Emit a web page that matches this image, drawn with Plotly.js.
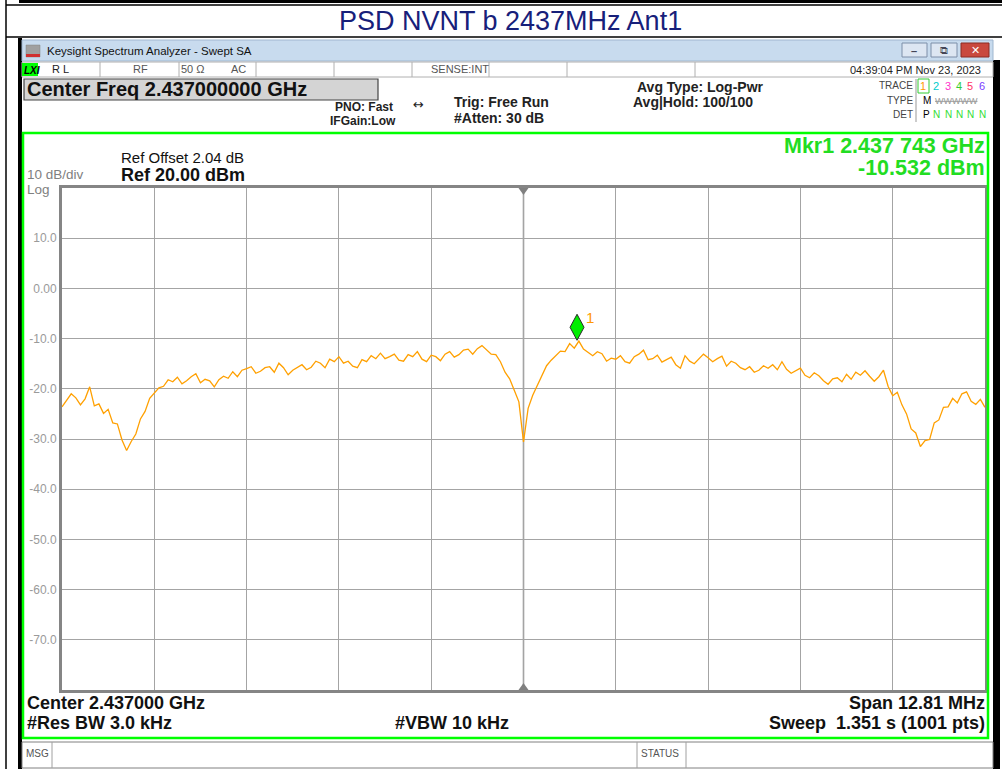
<!DOCTYPE html>
<html>
<head>
<meta charset="utf-8">
<script src="https://cdn.plot.ly/plotly-3.0.1.min.js"></script>
<style>
  body { margin: 0; background: #fff; }
  #psd { width: 1002px; height: 769px; }
</style>
</head>
<body>
<div id="psd"></div>
<script>
// sweep settings
var centerMHz = 2437.0;
var spanMHz = 12.81;
var refLevel = 20;
var dbPerDiv = 10;

// trace 1 levels (dBm), 201 points read across the span, left to right
var sweepLevels = [
  -23.6, -22.4, -21.0, -21.8, -23.2, -22.0, -19.6, -23.4, -23.0, -24.9,
  -24.1, -26.8, -27.0, -30.2, -32.3, -30.5, -29.0, -26.0, -24.5, -21.9,
  -20.9, -19.8, -19.5, -18.2, -18.6, -17.7, -19.0, -18.4, -17.6, -17.0,
  -18.8, -18.1, -18.4, -19.6, -18.2, -17.5, -17.9, -16.6, -17.6, -16.3,
  -16.0, -15.6, -16.9, -16.5, -15.8, -15.6, -16.7, -14.9, -15.8, -17.2,
  -16.3, -15.8, -15.2, -16.2, -15.7, -14.5, -14.9, -15.8, -14.1, -14.6,
  -13.6, -14.9, -14.5, -15.5, -15.8, -14.2, -14.6, -13.4, -14.0, -12.9,
  -14.0, -13.6, -13.1, -14.3, -14.5, -13.2, -13.6, -12.6, -14.1, -14.6,
  -13.3, -13.6, -14.4, -13.1, -12.6, -13.7, -13.2, -12.3, -12.1, -13.1,
  -12.0, -11.4, -12.2, -13.1, -13.2, -14.6, -16.7, -18.0, -20.3, -22.6,
  -30.6, -23.9, -21.3, -19.3, -17.4, -15.4, -14.3, -13.5, -12.5, -12.6,
  -11.0, -11.9, -10.5, -12.1, -12.8, -13.4, -12.6, -13.0, -14.5, -13.9,
  -14.1, -13.4, -14.6, -14.9, -13.6, -13.1, -12.3, -14.2, -14.0, -13.3,
  -14.7, -14.2, -13.7, -15.2, -15.9, -13.4, -14.5, -15.0, -14.0, -13.1,
  -13.8, -14.6, -14.0, -13.5, -15.5, -14.5, -14.9, -15.8, -16.2, -15.6,
  -16.7, -16.3, -15.4, -15.9, -15.2, -16.2, -14.6, -16.1, -16.9, -16.4,
  -15.9, -17.3, -17.8, -16.8, -17.4, -18.4, -19.1, -18.0, -17.8, -18.6,
  -17.1, -18.1, -16.7, -17.3, -16.4, -17.5, -18.5, -17.6, -16.3, -19.5,
  -21.4, -20.7, -23.2, -25.0, -28.0, -28.8, -31.5, -30.3, -30.1, -26.8,
  -26.2, -23.7, -23.6, -21.9, -22.8, -21.0, -20.6, -22.5, -23.1, -22.1,
  -23.7
];

var yTickVals = [10, 0, -10, -20, -30, -40, -50, -60, -70];
var yTickText = ['10.0', '0.00', '-10.0', '-20.0', '-30.0', '-40.0', '-50.0', '-60.0', '-70.0'];

var markerFreqMHz = 2437.743;
var markerLevel = -10.532;

var traceColors = ['#ff9900', '#00cccc', '#ff33cc', '#33cc33', '#ff3366', '#7a3cff'];

// ---------------------------------------------------------------
var startMHz = centerMHz - spanMHz / 2;
var stopMHz = centerMHz + spanMHz / 2;
var freqs = sweepLevels.map(function (v, i) {
  return startMHz + i * spanMHz / (sweepLevels.length - 1);
});

// screen pixel -> paper coords (plot area is 62..985 x 188..690)
var PL = 62, PR = 985, PT = 188, PB = 690;
function px(x) { return (x - PL) / (PR - PL); }
function py(y) { return (PB - y) / (PB - PT); }

var FONT = 'Liberation Sans, Arial, sans-serif';

function note(x, y, text, size, color, anchor, family) {
  return {
    xref: 'paper', yref: 'paper', x: px(x), y: py(y),
    text: text, showarrow: false,
    xanchor: anchor || 'left', yanchor: 'middle',
    borderpad: 0,
    font: { family: family || FONT, size: size, color: color || '#000' }
  };
}

function rect(x0, y0, x1, y1, fill, line, lw) {
  return {
    type: 'rect', xref: 'paper', yref: 'paper',
    x0: px(x0), x1: px(x1), y0: py(y0), y1: py(y1),
    fillcolor: fill || 'rgba(0,0,0,0)',
    line: { color: line || 'rgba(0,0,0,0)', width: lw === undefined ? 1 : lw }
  };
}

function seg(x0, y0, x1, y1, color, lw) {
  return {
    type: 'line', xref: 'paper', yref: 'paper',
    x0: px(x0), x1: px(x1), y0: py(y0), y1: py(y1),
    line: { color: color, width: lw }
  };
}

var shapes = [
  // report table lines
  rect(19, 0, 1002, 3, '#000', '#000', 0),
  seg(6, 0, 6, 769, '#000', 1.5),
  seg(6, 5, 1002, 5, '#000', 1.5),
  seg(6, 37, 1002, 37, '#000', 1.5),
  // window frame
  rect(18, 38, 22, 769, '#000', '#000', 0),
  rect(993, 60, 1000, 769, '#000', '#000', 0),
  rect(22, 40, 993, 61, '#c8dbee', '#9fb6cf', 1),
  rect(26, 45, 40, 57, '#a0a0a0', '#808080', 0.5),
  rect(26, 54, 40, 57, '#d03030', '#d03030', 0),
  rect(902, 43, 927, 57, '#dde6f2', '#7d8ea8', 1),
  rect(931, 43, 957, 57, '#dde6f2', '#7d8ea8', 1),
  rect(961, 43, 989, 57, '#c9483e', '#8c2a22', 1),
  // status row
  rect(22, 62, 993, 77, '#fff', '#b0b0b0', 1),
  rect(22, 63, 38, 76, '#00ff00', '#00ff00', 0),
  seg(100, 62, 100, 77, '#b0b0b0', 1),
  seg(179, 62, 179, 77, '#b0b0b0', 1),
  seg(256, 62, 256, 77, '#b0b0b0', 1),
  seg(334, 62, 334, 77, '#b0b0b0', 1),
  seg(412, 62, 412, 77, '#b0b0b0', 1),
  seg(489, 62, 489, 77, '#b0b0b0', 1),
  seg(567, 62, 567, 77, '#b0b0b0', 1),
  seg(695, 62, 695, 77, '#b0b0b0', 1),
  // center freq box
  rect(24, 79, 378, 100, '#d4d4d4', '#444', 1.2),
  // trace table
  seg(916, 79, 916, 122, '#999', 1),
  rect(918, 79, 929, 93, 'rgba(0,0,0,0)', '#33cc33', 1),
  // graticule border (green)
  rect(23, 133, 988, 738, 'rgba(0,0,0,0)', '#00ff00', 2.5),
  // message row
  rect(22, 742, 993, 768, '#fff', '#808080', 1),
  seg(52, 742, 52, 768, '#a0a0a0', 1),
  seg(637, 742, 637, 768, '#a0a0a0', 1),
  seg(686, 742, 686, 768, '#a0a0a0', 1),
  // centre graticule line and its flags
  {
    type: 'line', xref: 'x', yref: 'paper', x0: centerMHz, x1: centerMHz, y0: 0, y1: 1,
    line: { color: '#8a8a8a', width: 1.5 }, layer: 'between'
  },
  {
    type: 'path', xref: 'x', yref: 'y', xsizemode: 'pixel', ysizemode: 'pixel',
    xanchor: centerMHz, yanchor: refLevel, path: 'M-5,0 L5,0 L0,-7 Z',
    fillcolor: '#808080', line: { width: 0 }
  },
  {
    type: 'path', xref: 'x', yref: 'y', xsizemode: 'pixel', ysizemode: 'pixel',
    xanchor: centerMHz, yanchor: refLevel - 10 * dbPerDiv, path: 'M-5,0 L5,0 L0,7 Z',
    fillcolor: '#808080', line: { width: 0 }
  },
  // marker 1 diamond
  {
    type: 'path', xref: 'x', yref: 'y', xsizemode: 'pixel', ysizemode: 'pixel',
    xanchor: markerFreqMHz, yanchor: markerLevel, path: 'M0,1 L7,14 L0,27 L-7,14 Z',
    fillcolor: '#00ee00', line: { color: '#2a2a2a', width: 1 }
  }
];

var annotations = [
  note(510, 21, 'PSD NVNT b 2437MHz Ant1', 27, '#17207a', 'center'),
  note(46, 51, 'Keysight Spectrum Analyzer - Swept SA', 11.5, '#111', 'left'),
  note(914, 51, '<b>–</b>', 11, '#445', 'center'),
  note(944, 50, '⧉', 11, '#445', 'center', 'DejaVu Sans'),
  note(975, 50, '<b>✕</b>', 11, '#fff', 'center', 'DejaVu Sans'),
  note(23, 70, '<b><i>LXI</i></b>', 10, '#000', 'left'),
  note(51, 69, 'R L', 11, '#222', 'left'),
  note(140, 69, 'RF', 11, '#555', 'center'),
  note(193, 69, '50 Ω', 11, '#555', 'center'),
  note(238, 69, 'AC', 11, '#555', 'center'),
  note(460, 69, 'SENSE:INT', 11, '#555', 'center'),
  note(982, 70, '04:39:04 PM Nov 23, 2023', 11, '#222', 'right'),
  note(26, 89, '<b>Center Freq 2.437000000 GHz</b>', 20, '#111', 'left'),
  note(394, 107, '<b>PNO: Fast</b>', 12, '#222', 'right'),
  note(397, 121, '<b>IFGain:Low</b>', 12, '#222', 'right'),
  note(418, 105, '↔', 13, '#222', 'center', 'DejaVu Sans'),
  note(453, 102, '<b>Trig: Free Run</b>', 14, '#222', 'left'),
  note(453, 118, '<b>#Atten: 30 dB</b>', 14, '#222', 'left'),
  note(636, 87, '<b>Avg Type: Log-Pwr</b>', 14, '#222', 'left'),
  note(632, 102, '<b>Avg|Hold: 100/100</b>', 14, '#222', 'left'),
  note(914, 86, 'TRACE', 10, '#444', 'right'),
  note(914, 101, 'TYPE', 10, '#444', 'right'),
  note(914, 115, 'DET', 10, '#444', 'right'),
  note(922, 101, 'M', 10, '#000', 'left'),
  note(934, 101, '<s>WWWWW</s>', 9, '#999', 'left'),
  note(922, 115, 'P', 10, '#000', 'left'),
  note(986, 146, '<b>Mkr1 2.437 743 GHz</b>', 21.5, '#22dd22', 'right'),
  note(986, 168, '<b>-10.532 dBm</b>', 21.5, '#22dd22', 'right'),
  note(120, 157, 'Ref Offset 2.04 dB', 15, '#111', 'left'),
  note(120, 175, '<b>Ref 20.00 dBm</b>', 18, '#111', 'left'),
  note(26, 174, '10 dB/div', 13.5, '#808080', 'left'),
  note(26, 189, 'Log', 13.5, '#808080', 'left'),
  note(26, 703, '<b>Center 2.437000 GHz</b>', 18, '#111', 'left'),
  note(26, 723, '<b>#Res BW 3.0 kHz</b>', 18, '#111', 'left'),
  note(452, 723, '<b>#VBW 10 kHz</b>', 18, '#111', 'center'),
  note(986, 703, '<b>Span 12.81 MHz</b>', 18, '#111', 'right'),
  note(986, 723, '<b>Sweep  1.351 s (1001 pts)</b>', 18, '#111', 'right'),
  note(25, 753, 'MSG', 10, '#555', 'left'),
  note(640, 753, 'STATUS', 10, '#555', 'left'),
  {
    xref: 'x', yref: 'y', x: markerFreqMHz, y: markerLevel, text: '1',
    showarrow: false, xshift: 13, yshift: 24,
    font: { family: FONT, size: 15, color: '#ff9900' }
  }
];

// trace numbers 1..6 and detector letters
var tracePos = [923, 936, 948, 959, 970, 982];
tracePos.forEach(function (x, i) {
  annotations.push(note(x, 86, String(i + 1), 11, traceColors[i], 'center'));
  if (i > 0) annotations.push(note(x, 115, 'N', 10, '#33dd33', 'center'));
});

var data = [{
  x: freqs,
  y: sweepLevels,
  type: 'scatter',
  mode: 'lines',
  line: { color: '#ffa000', width: 1.3 },
  hoverinfo: 'skip'
}];

var layout = {
  width: 1002,
  height: 769,
  autosize: false,
  showlegend: false,
  paper_bgcolor: '#fff',
  plot_bgcolor: '#fff',
  margin: { l: 62, r: 17, t: 188, b: 79 },
  xaxis: {
    range: [startMHz, stopMHz],
    tick0: startMHz,
    dtick: spanMHz / 10,
    showticklabels: false,
    ticks: '',
    showgrid: true,
    gridcolor: '#a4a4a4',
    gridwidth: 1,
    zeroline: false,
    showline: true,
    mirror: true,
    linecolor: '#858585',
    linewidth: 3
  },
  yaxis: {
    range: [refLevel - 10 * dbPerDiv, refLevel],
    tickvals: yTickVals,
    ticktext: yTickText,
    ticks: '',
    tickfont: { family: FONT, size: 12, color: '#9a9a9a' },
    showgrid: true,
    gridcolor: '#a4a4a4',
    gridwidth: 1,
    zeroline: false,
    showline: true,
    mirror: true,
    linecolor: '#858585',
    linewidth: 3
  },
  shapes: shapes,
  annotations: annotations
};

Plotly.newPlot('psd', data, layout, { displayModeBar: false, staticPlot: true });
</script>
</body>
</html>
